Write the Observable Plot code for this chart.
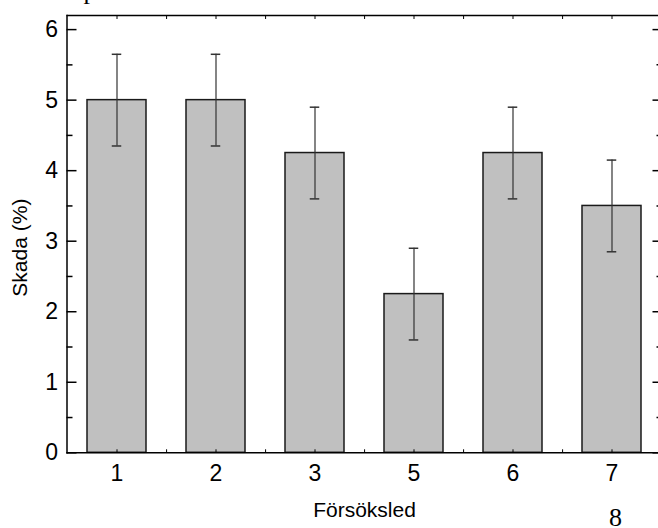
<!DOCTYPE html>
<html><head><meta charset="utf-8">
<script src="https://cdn.jsdelivr.net/npm/d3@7"></script>
<script src="https://cdn.jsdelivr.net/npm/@observablehq/plot@0.6"></script>
<style>html,body{margin:0;padding:0;overflow:hidden;background:#fff;width:658px;height:528px}#chart{width:658px;height:528px;overflow:hidden}</style>
</head><body><div id="chart"></div>
<script>
const categories = ["1", "2", "3", "5", "6", "7"];
const values = [5, 5, 4.25, 2.25, 4.25, 3.5];
const errors = [0.65, 0.65, 0.65, 0.65, 0.65, 0.65];
const yMajorTicks = [0, 1, 2, 3, 4, 5, 6];
const yMinorTicks = [0.5, 1.5, 2.5, 3.5, 4.5, 5.5];
const yDomain = [0, 6.2];
const xLabel = "Försöksled";
const yLabel = "Skada (%)";
const pageTopText = "p";
const pageNumber = "8";

const data = categories.map((c, i) => ({c, v: values[i], lo: values[i] - errors[i], hi: values[i] + errors[i]}));

const W = 658, H = 528, mL = 66.5, mR = -3.5, mT = 15, mB = 75.7;
const step = (W - mL - mR) / categories.length;
const bandW = step * 0.6;
const capW = 10;
const capInset = (bandW - capW) / 2;
const sans = "'Liberation Sans', Arial, sans-serif";
const serif = "'Liberation Serif', 'Times New Roman', serif";
const fmt = d => String(d);

const chart = Plot.plot({
  width: W, height: H,
  marginLeft: mL, marginRight: mR, marginTop: mT, marginBottom: mB,
  style: {fontFamily: sans, color: "#000", background: "#fff", overflow: "hidden"},
  x: {type: "band", domain: categories, paddingInner: 0.4, paddingOuter: 0.2},
  y: {domain: yDomain},
  marks: [
    Plot.barY(data, {x: "c", y: "v", fill: "#c0c0c0", stroke: "#1a1a1a", strokeWidth: 1.5}),
    Plot.ruleX(data, {x: "c", y1: "lo", y2: "hi", stroke: "#333", strokeWidth: 1.2}),
    Plot.tickY(data, {x: "c", y: "lo", insetLeft: capInset, insetRight: capInset, stroke: "#333", strokeWidth: 1.5}),
    Plot.tickY(data, {x: "c", y: "hi", insetLeft: capInset, insetRight: capInset, stroke: "#333", strokeWidth: 1.5}),
    Plot.ruleY(yDomain, {stroke: "#000", strokeWidth: 1.5}),
    Plot.frame({anchor: "left", stroke: "#000", strokeWidth: 1.5}),
    Plot.axisY(yMajorTicks, {anchor: "left", tickSize: 0, tickPadding: 9, fontSize: 23, tickFormat: fmt, label: null}),
    Plot.axisY(yMajorTicks, {anchor: "left", tickSize: 10, dx: 10, fill: "none", label: null, strokeWidth: 1.5}),
    Plot.axisY(yMinorTicks, {anchor: "left", tickSize: 6, dx: 6, fill: "none", label: null, strokeWidth: 1.5}),
    Plot.axisY(yMajorTicks, {anchor: "right", tickSize: 10, dx: -10, fill: "none", label: null, strokeWidth: 1.5}),
    Plot.axisY(yMinorTicks, {anchor: "right", tickSize: 6, dx: -6, fill: "none", label: null, strokeWidth: 1.5}),
    Plot.axisX(categories, {anchor: "bottom", tickSize: 0, tickPadding: 12, fontSize: 23, label: null}),
    Plot.axisX(categories, {anchor: "bottom", tickSize: 3, dy: -3, fill: "none", label: null}),
    Plot.axisX(categories.slice(0, -1), {anchor: "bottom", tickSize: 3, dy: -3, dx: step / 2, fill: "none", label: null}),
    Plot.axisX(categories, {anchor: "top", tickSize: 3, dy: 3, fill: "none", label: null}),
    Plot.axisX(categories.slice(0, -1), {anchor: "top", tickSize: 3, dy: 3, dx: step / 2, fill: "none", label: null}),
    Plot.text([xLabel], {frameAnchor: "bottom", textAnchor: "middle", dy: 64.5, lineAnchor: "bottom", fontSize: 21, fill: "#000"}),
    Plot.text([yLabel], {frameAnchor: "left", textAnchor: "middle", rotate: -90, dx: -46.5, dy: 13.5, lineAnchor: "middle", fontSize: 21, fill: "#000"}),
    Plot.text([pageTopText], {frameAnchor: "top-left", textAnchor: "start", lineAnchor: "bottom", dx: 16.5, dy: -16.5, fontSize: 26, fontFamily: serif, fill: "#000"}),
    Plot.text([pageNumber], {frameAnchor: "bottom-right", textAnchor: "middle", lineAnchor: "bottom", dx: -46.5, dy: 73.5, fontSize: 26, fontFamily: serif, fill: "#000"})
  ]
});
document.getElementById("chart").appendChild(chart);
</script>
</body></html>
